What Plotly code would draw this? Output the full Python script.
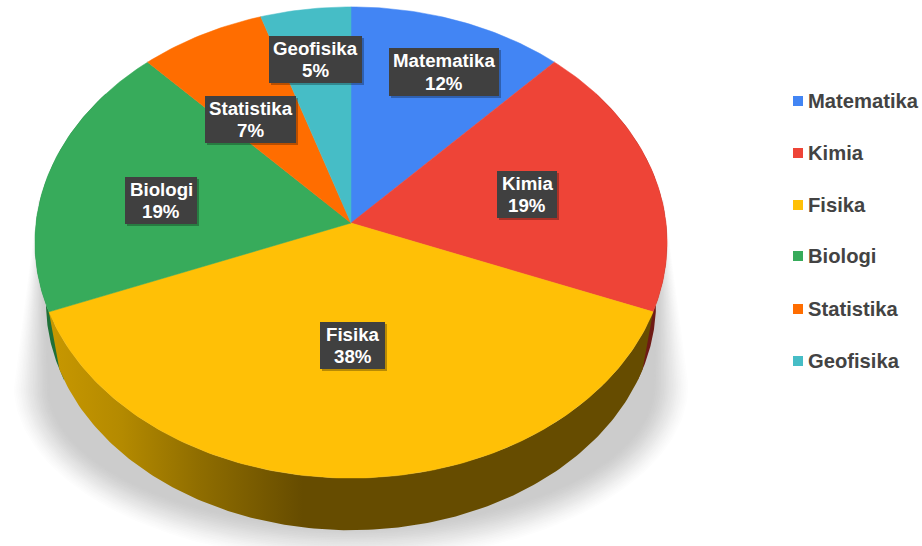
import numpy as np
import plotly.graph_objects as go

categories = ["Matematika", "Kimia", "Fisika", "Biologi", "Statistika", "Geofisika"]
values = [12, 19, 38, 19, 7, 5]
colors = ["#4285F4", "#EE4437", "#FFC006", "#37AB5B", "#FF6D00", "#46BDC6"]
percent_labels = ["12%", "19%", "38%", "19%", "7%", "5%"]

# label box (x0, y0, x1, y1) in image pixels
label_boxes = [(389, 48, 499, 96), (497, 171, 557, 218), (320, 322, 385, 369),
               (125, 177, 197, 224), (205, 96, 296, 143), (269, 36, 362, 83)]
legend_x = 798
legend_y = [101, 153, 205, 256, 309, 361]

W, H = 922, 546
CX, CY, A, B, K = 351, 223, 315, 234, 0.0828
CY2, SCALE2 = 284, 0.965


def project(theta, r=1.0, lower=False):
    u, v = r * np.sin(theta), r * np.cos(theta)
    w = 1 + K * v
    s = SCALE2 if lower else 1.0
    cy = CY2 if lower else CY
    return CX + s * A * u / w, cy - s * B * v / w


fractions = np.array(values) / sum(values)
edges = np.concatenate([[0], np.cumsum(fractions)]) * 2 * np.pi

fig = go.Figure()

# soft drop shadow
n = 22
for i in range(n):
    t = i / (n - 1)
    inset = 36 * t
    grey = int(255 - (255 - 204) * (0.6 * t + 0.4 * t * t * (3 - 2 * t)))
    ph = np.linspace(np.pi, 0, 120)
    ex = CX + (339 - inset) * np.cos(ph)
    ey = 385 + (178 - inset) * np.sin(ph)
    sx = np.concatenate([[38 + inset * 0.1], ex, [664 - inset * 0.1]])
    sy = np.concatenate([[200, *ey, 200]])
    fig.add_trace(go.Scatter(x=sx, y=sy, mode="lines", fill="toself", line=dict(width=0),
                             fillcolor=f"rgb({grey},{grey},{grey})", hoverinfo="skip", showlegend=False))


def wall(t0, t1, **kw):
    th = np.linspace(t0, t1, 160)
    x1, y1 = project(th)
    x2, y2 = project(th[::-1], lower=True)
    fig.add_trace(go.Scatter(x=np.concatenate([x1, x2]), y=np.concatenate([y1, y2]), mode="lines",
                             fill="toself", line=dict(width=0), hoverinfo="skip", showlegend=False, **kw))


# side walls
wall(edges[1] + 0.2, edges[2] + 0.05, fillcolor="#6E1A14")
wall(edges[3] - 0.05, edges[4] - 0.2, fillcolor="#1F7038")
wall(edges[2], edges[3], fillgradient=dict(
    type="horizontal",
    colorscale=[[0, "#C89800"], [0.12, "#B48A00"], [0.25, "#8F6D00"], [0.42, "#664C00"], [1, "#664C00"]]))

# top face slices
for i, name in enumerate(categories):
    th = np.linspace(edges[i], edges[i + 1], max(8, int(400 * fractions[i])))
    x, y = project(th)
    fig.add_trace(go.Scatter(x=np.concatenate([[CX], x, [CX]]), y=np.concatenate([[CY], y, [CY]]),
                             mode="lines", fill="toself", line=dict(width=0.5, color=colors[i]),
                             fillcolor=colors[i], name=name, showlegend=False,
                             hovertemplate=f"{name}: {percent_labels[i]}<extra></extra>"))

# legend
for i, name in enumerate(categories):
    fig.add_trace(go.Scatter(x=[legend_x], y=[legend_y[i]], mode="markers", showlegend=False,
                             marker=dict(symbol="square", size=10, color=colors[i]), hoverinfo="skip"))

shapes, annos = [], []
font = "Liberation Sans, Arial, sans-serif"
for i, name in enumerate(categories):
    x0, y0, x1, y1 = label_boxes[i]
    shapes.append(dict(type="rect", x0=x0 + 2, y0=y0 + 2, x1=x1 + 2, y1=y1 + 2,
                       fillcolor="rgba(0,0,0,0.28)", line=dict(width=0), xref="x", yref="y", layer="above"))
    shapes.append(dict(type="rect", x0=x0, y0=y0, x1=x1, y1=y1, fillcolor="#404040",
                       line=dict(width=0), xref="x", yref="y", layer="above"))
    xc = (x0 + x1) / 2
    for txt, dy in ((name, -11.5), (percent_labels[i], 11.0)):
        annos.append(dict(x=xc, y=(y0 + y1) / 2 + dy, text=f"<b>{txt}</b>", showarrow=False,
                          xanchor="center", yanchor="middle",
                          font=dict(family=font, size=18.7, color="white")))
    annos.append(dict(x=legend_x + 8, y=legend_y[i], text=f"<b>{name}</b>", showarrow=False,
                      xanchor="left", yanchor="middle",
                      font=dict(family=font, size=20.2, color="#434343")))

fig.update_layout(
    width=W, height=H, margin=dict(l=0, r=0, t=0, b=0), autosize=False,
    paper_bgcolor="white", plot_bgcolor="white", shapes=shapes, annotations=annos,
    xaxis=dict(range=[0, W], visible=False, fixedrange=True),
    yaxis=dict(range=[H, 0], visible=False, fixedrange=True),
    showlegend=False,
)
fig.write_html("out.html", config=dict(displayModeBar=False),
               post_script="document.body.style.margin='0';document.body.style.overflow='hidden';")
